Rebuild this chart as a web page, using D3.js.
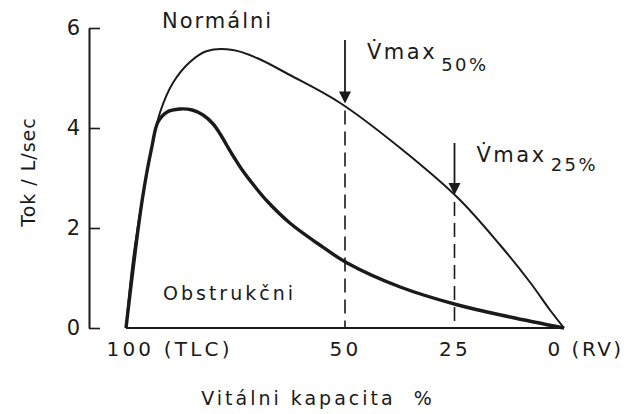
<!DOCTYPE html>
<html>
<head>
<meta charset="utf-8">
<script src="https://cdn.jsdelivr.net/npm/d3@7"></script>
<style>
  body { margin: 0; background: #fff; }
  text { font-family: "DejaVu Sans", sans-serif; fill: #1a1a1a; white-space: pre; }
</style>
</head>
<body>
<svg id="chart"></svg>
<script>
// data
let normalVC   = [100, 98.4, 96.3, 94.1, 92.2, 89.3, 85.4, 81.5, 75.6, 70.1, 62.6, 51.1, 37.4, 24.2, 14.6, 7.8, 3.2, 0]
let normalFlow = [0, 1.36, 2.56, 3.62, 4.32, 4.9, 5.32, 5.54, 5.56, 5.4, 5.06, 4.5, 3.6, 2.6, 1.66, 0.92, 0.36, 0]

let obstrVC   = [100, 96.3, 94.1, 92.7, 90.6, 87.7, 84.9, 82.4, 80.1, 78.5, 76.9, 75.1, 73.3, 70.5, 67.8, 62.6, 56.4, 49.5, 37.4, 24.2, 12.3, 0]
let obstrFlow = [0, 2.56, 3.62, 4.12, 4.32, 4.38, 4.36, 4.26, 4.08, 3.88, 3.64, 3.38, 3.14, 2.82, 2.54, 2.1, 1.7, 1.3, 0.82, 0.46, 0.22, 0]

let xTicks = [100, 50, 25, 0]
let xTickLabels = ['100 (TLC)', '50', '25', '0 (RV)']
let yTicks = [0, 2, 4, 6]

// Vmax markers: volume, arrow start, flow on the normal curve
let markVC = [50, 25]
let markTop = [5.76, 3.7]
let markFlow = [4.43, 2.6]
let markSub = ['50%', '25%']

let width = 628
let height = 414

let svg = d3.select('#chart').attr('width', width).attr('height', height)

let x = d3.scaleLinear().domain([100, 0]).range([126, 564])
let y = d3.scaleLinear().domain([0, 6]).range([328, 28])

let ink = '#1a1a1a'

// y axis, ticks pointing inwards
let yAxis = d3.axisLeft(y).tickValues(yTicks).tickFormat(d3.format('d'))
  .tickSize(-11).tickSizeOuter(0).tickPadding(9)
let gy = svg.append('g')
  .attr('transform', 'translate(89,0)')
  .style('color', ink)
  .call(yAxis)
gy.select('.domain').attr('stroke-width', 2)
gy.selectAll('.tick line').attr('stroke-width', 1.6)
gy.selectAll('.tick text').style('font-size', '21px').attr('font-family', null)

svg.append('text')
  .attr('transform', 'translate(35,172) rotate(-90)')
  .attr('text-anchor', 'middle')
  .style('font-size', '19px')
  .style('letter-spacing', '1px')
  .text('Tok / L/sec')

// x axis labels (no line, only the baseline under the curves)
let xAxis = d3.axisBottom(x).tickValues(xTicks).tickSize(0).tickPadding(14)
  .tickFormat((d, i) => xTickLabels[i])
let gx = svg.append('g')
  .attr('transform', 'translate(0,' + y(0) + ')')
  .style('color', ink)
  .call(xAxis)
gx.select('.domain').remove()
gx.selectAll('.tick text')
  .attr('font-family', null)
  .style('font-size', '20px')
  .style('letter-spacing', (d) => d === 0 ? '2.5px' : '3.2px')
  .attr('text-anchor', (d) => (d === 100 || d === 0) ? 'start' : 'middle')
  .attr('dx', (d) => d === 100 ? -20 : (d === 0 ? -17 : 0))

svg.append('text')
  .attr('x', 318)
  .attr('y', 405)
  .attr('text-anchor', 'middle')
  .style('font-size', '19px')
  .style('letter-spacing', '3px')
  .text('Vitálni kapacita  %')

// baseline
svg.append('line')
  .attr('x1', x(100)).attr('x2', x(0))
  .attr('y1', y(0)).attr('y2', y(0))
  .attr('stroke', ink).attr('stroke-width', 2.2)

// dashed verticals from normal curve down
markVC.forEach((v, i) => {
  svg.append('line')
    .attr('x1', x(v)).attr('x2', x(v))
    .attr('y1', y(markFlow[i]) + 4).attr('y2', y(0))
    .attr('stroke', ink).attr('stroke-width', 1.6)
    .attr('stroke-dasharray', '14,7')
})

// curves
let line = d3.line().curve(d3.curveCatmullRom.alpha(0.5))

svg.append('path')
  .datum(normalVC.map((v, i) => [x(v), y(normalFlow[i])]))
  .attr('d', line)
  .attr('fill', 'none').attr('stroke', ink).attr('stroke-width', 2)

svg.append('path')
  .datum(obstrVC.map((v, i) => [x(v), y(obstrFlow[i])]))
  .attr('d', line)
  .attr('fill', 'none').attr('stroke', ink).attr('stroke-width', 3.4)

// Vmax arrows and labels
markVC.forEach((v, i) => {
  let ax = x(v)
  let tip = y(markFlow[i]) - 3
  svg.append('line')
    .attr('x1', ax).attr('x2', ax)
    .attr('y1', y(markTop[i])).attr('y2', tip - 8)
    .attr('stroke', ink).attr('stroke-width', 1.8)
  svg.append('path')
    .attr('d', `M${ax - 6},${tip - 12} L${ax + 6},${tip - 12} L${ax},${tip} Z`)
    .attr('fill', ink)

  let t = svg.append('text')
    .attr('x', ax + 22)
    .attr('y', y(markTop[i]) + 19)
    .style('font-size', '21px')
    .style('letter-spacing', '2.5px')
  t.append('tspan').text('V\u0307max')
  t.append('tspan')
    .attr('dx', 4)
    .attr('dy', i === 0 ? 12 : 9)
    .style('font-size', '18px')
    .text(markSub[i])
})

// curve names
svg.append('text')
  .attr('x', 162).attr('y', 28)
  .style('font-size', '21px')
  .style('letter-spacing', '2px')
  .text('Normálni')

svg.append('text')
  .attr('x', 163).attr('y', 300)
  .style('font-size', '19px')
  .style('letter-spacing', '3px')
  .text('Obstrukčni')
</script>
</body>
</html>
